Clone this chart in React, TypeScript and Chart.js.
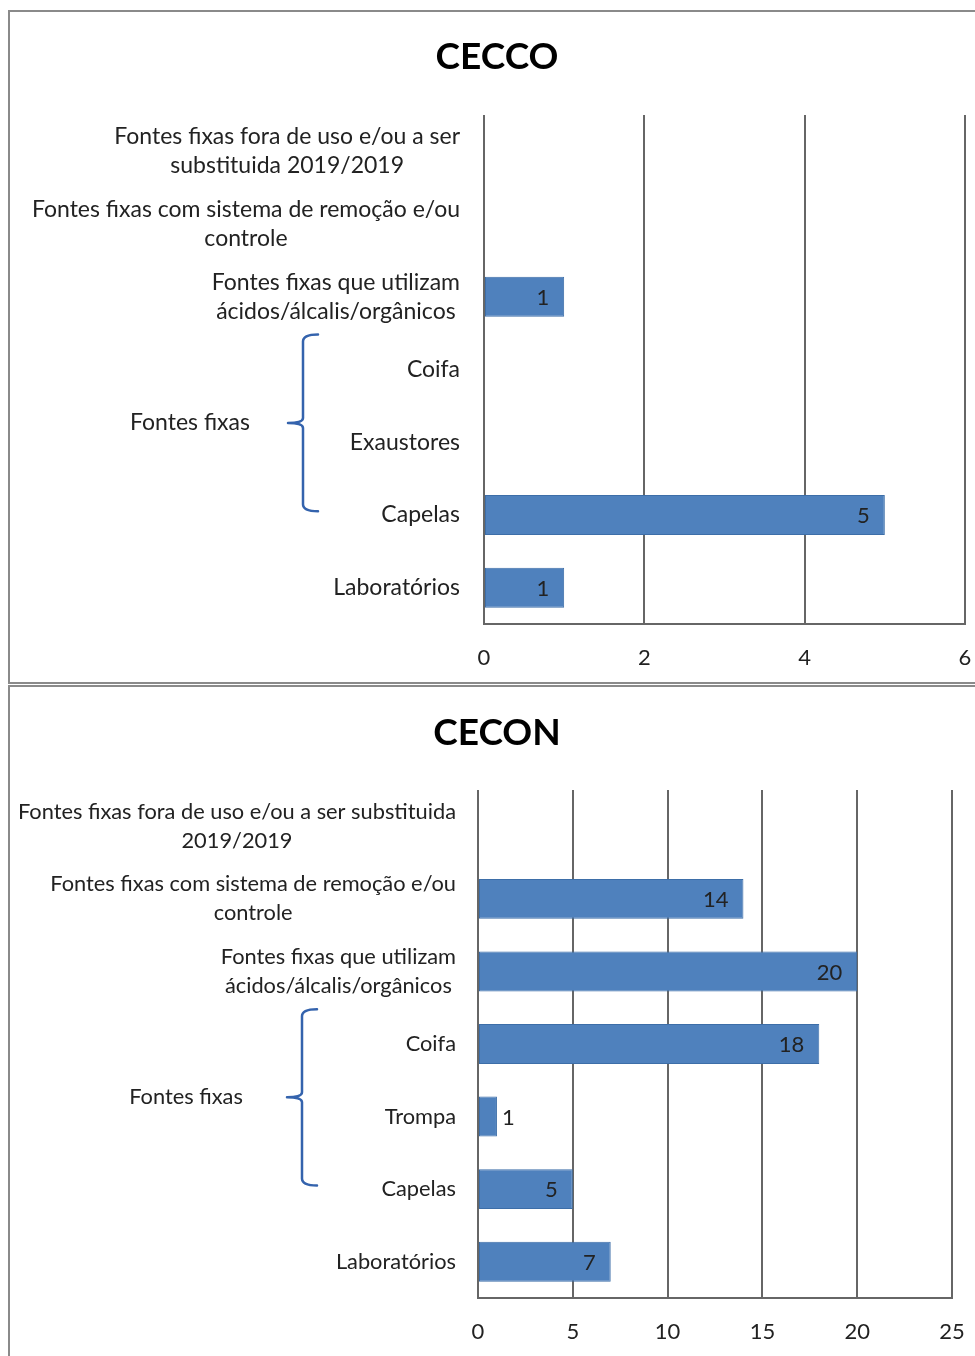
import React, { useEffect, useRef } from "react";
import { Chart, registerables } from "chart.js";

Chart.register(...registerables);

const FONT = "Lato, 'Open Sans', sans-serif";

// CECCO panel
const ceccoCategories: (string | string[])[] = [
  ["Fontes fixas fora de uso e/ou a ser", "substituida 2019/2019"],
  ["Fontes fixas com sistema de remoção e/ou", "controle"],
  ["Fontes fixas que utilizam", "ácidos/álcalis/orgânicos"],
  "Coifa",
  "Exaustores",
  "Capelas",
  "Laboratórios",
];
const ceccoValues: (number | null)[] = [null, null, 1, null, null, 5, 1];
const ceccoTicks = [0, 2, 4, 6];

// CECON panel
const ceconCategories: (string | string[])[] = [
  ["Fontes fixas fora de uso e/ou a ser substituida", "2019/2019"],
  ["Fontes fixas com sistema de remoção e/ou", "controle"],
  ["Fontes fixas que utilizam", "ácidos/álcalis/orgânicos"],
  "Coifa",
  "Trompa",
  "Capelas",
  "Laboratórios",
];
const ceconValues: (number | null)[] = [null, 14, 20, 18, 1, 5, 7];
const ceconTicks = [0, 5, 10, 15, 20, 25];

// bracketed group of categories
const groupLabel = "Fontes fixas";
const groupFirst = 3;
const groupLast = 5;

// the page is laid out edge to edge
if (typeof document !== "undefined") {
  document.body.style.margin = "0";
  document.documentElement.style.overflow = "hidden";
}

type PanelProps = {
  title: string;
  categories: (string | string[])[];
  values: (number | null)[];
  ticks: number[];
  boxHeight: number;
  marginTop: number;
  bottomBorder: boolean;
  plotLeft: number;
  plotRight: number;
  plotTop: number;
  plotBottom: number;
  titleY: number;
  labelGap: number;
  labelSize: number;
  braceX: number;
  groupX: number;
};

const CANVAS_W = 965;

function Panel(p: PanelProps) {
  const ref = useRef<HTMLCanvasElement>(null);
  const canvasH = p.boxHeight - 2 - (p.bottomBorder ? 2 : 0);

  useEffect(() => {
    const canvas = ref.current;
    if (!canvas) return;
    const textColor = "#222222";

    const decorations = {
      id: "decorations",
      afterDraw(c: any) {
        const ctx: CanvasRenderingContext2D = c.ctx;
        const area = c.chartArea;
        const yScale = c.scales.y;
        const band = yScale.getPixelForValue(1) - yScale.getPixelForValue(0);
        ctx.save();

        // title
        ctx.fillStyle = "#000000";
        ctx.font = `bold 37px ${FONT}`;
        ctx.textAlign = "center";
        ctx.textBaseline = "middle";
        ctx.fillText(p.title, 487, p.titleY);

        // category labels: block right-aligned to the axis, lines centered in the block
        ctx.font = `${p.labelSize}px ${FONT}`;
        ctx.fillStyle = textColor;
        const lineH = 29;
        p.categories.forEach((lab, i) => {
          const lines = Array.isArray(lab) ? lab : [lab];
          let maxW = 0;
          lines.forEach((l) => {
            maxW = Math.max(maxW, ctx.measureText(l).width);
          });
          const cx = area.left - p.labelGap - maxW / 2;
          const cy = yScale.getPixelForValue(i);
          lines.forEach((l, j) => {
            ctx.fillText(l, cx, cy + (j - (lines.length - 1) / 2) * lineH);
          });
        });

        // brace around the grouped categories
        const bTop = yScale.getPixelForValue(groupFirst) - 0.48 * band;
        const bBot = yScale.getPixelForValue(groupLast) - 0.05 * band;
        const mid = (bTop + bBot) / 2;
        const x = p.braceX;
        ctx.strokeStyle = "#3463ad";
        ctx.lineWidth = 2.5;
        ctx.lineCap = "round";
        ctx.beginPath();
        ctx.moveTo(x + 15, bTop);
        ctx.quadraticCurveTo(x, bTop, x, bTop + 7);
        ctx.lineTo(x, mid - 5);
        ctx.quadraticCurveTo(x, mid, x - 15, mid);
        ctx.moveTo(x - 15, mid);
        ctx.quadraticCurveTo(x, mid, x, mid + 5);
        ctx.lineTo(x, bBot - 7);
        ctx.quadraticCurveTo(x, bBot, x + 15, bBot);
        ctx.stroke();
        ctx.fillStyle = textColor;
        ctx.fillText(groupLabel, p.groupX, mid);

        // value labels at the inside end of each bar
        ctx.font = `22px ${FONT}`;
        const meta = c.getDatasetMeta(0);
        meta.data.forEach((bar: any, i: number) => {
          const v = p.values[i];
          if (v == null) return;
          const txt = String(v);
          const w = ctx.measureText(txt).width;
          const len = bar.x - bar.base;
          if (len >= w + 28) {
            ctx.textAlign = "right";
            ctx.fillText(txt, bar.x - 15, bar.y + 1);
          } else {
            ctx.textAlign = "left";
            ctx.fillText(txt, bar.x + 5, bar.y + 1);
          }
          ctx.textAlign = "center";
        });

        ctx.restore();
      },
    };

    const chart = new Chart(canvas, {
      type: "bar",
      data: {
        labels: p.categories.map((c) => (Array.isArray(c) ? c.join(" ") : c)),
        datasets: [
          {
            data: p.values,
            backgroundColor: "#4f81bd",
            borderColor: "#3d6ea8",
            borderWidth: 1,
            borderSkipped: false,
            barPercentage: 0.55,
            categoryPercentage: 1,
          },
        ],
      },
      options: {
        indexAxis: "y",
        responsive: false,
        maintainAspectRatio: false,
        animation: false,
        devicePixelRatio: 1,
        layout: {
          padding: { top: p.plotTop, left: 0, right: CANVAS_W - p.plotRight, bottom: 0 },
        },
        plugins: {
          legend: { display: false },
          tooltip: { enabled: false },
          title: { display: false },
        },
        scales: {
          x: {
            min: p.ticks[0],
            max: p.ticks[p.ticks.length - 1],
            grid: {
              color: "#666666",
              lineWidth: 2,
              drawTicks: true,
              tickLength: 21,
              tickColor: "rgba(0,0,0,0)",
            },
            border: { color: "#666666", width: 2 },
            ticks: {
              stepSize: p.ticks[1] - p.ticks[0],
              padding: 0,
              color: textColor,
              font: { family: FONT, size: 22 },
            },
            afterFit: (s: any) => {
              s.height = canvasH - p.plotBottom;
            },
          },
          y: {
            grid: { display: false },
            border: { display: false },
            ticks: { display: false },
            afterFit: (s: any) => {
              s.width = p.plotLeft;
            },
          },
        },
      } as any,
      plugins: [decorations],
    });
    return () => chart.destroy();
  }, []);

  return (
    <div
      style={{
        width: 967,
        height: p.boxHeight,
        marginTop: p.marginTop,
        boxSizing: "border-box",
        borderTop: "2px solid #8a8a8a",
        borderLeft: "2px solid #8a8a8a",
        borderBottom: p.bottomBorder ? "2px solid #8a8a8a" : "none",
        background: "#ffffff",
        overflow: "hidden",
      }}
    >
      <canvas
        ref={ref}
        width={CANVAS_W}
        height={canvasH}
        style={{ display: "block", width: CANVAS_W, height: canvasH }}
      />
    </div>
  );
}

export default function App() {
  return (
    <div
      style={{
        width: 975,
        height: 1356,
        paddingLeft: 8,
        paddingTop: 10,
        boxSizing: "border-box",
        overflow: "hidden",
        background: "#ffffff",
      }}
    >
      <Panel
        title="CECCO"
        categories={ceccoCategories}
        values={ceccoValues}
        ticks={ceccoTicks}
        boxHeight={674}
        marginTop={0}
        bottomBorder={true}
        plotLeft={474}
        plotRight={955}
        plotTop={103}
        plotBottom={612}
        titleY={45}
        labelGap={24}
        labelSize={23}
        braceX={293}
        groupX={180}
      />
      <Panel
        title="CECON"
        categories={ceconCategories}
        values={ceconValues}
        ticks={ceconTicks}
        boxHeight={671}
        marginTop={1}
        bottomBorder={false}
        plotLeft={468}
        plotRight={942}
        plotTop={103}
        plotBottom={611}
        titleY={46}
        labelGap={22}
        labelSize={21.8}
        braceX={292}
        groupX={176}
      />
    </div>
  );
}
